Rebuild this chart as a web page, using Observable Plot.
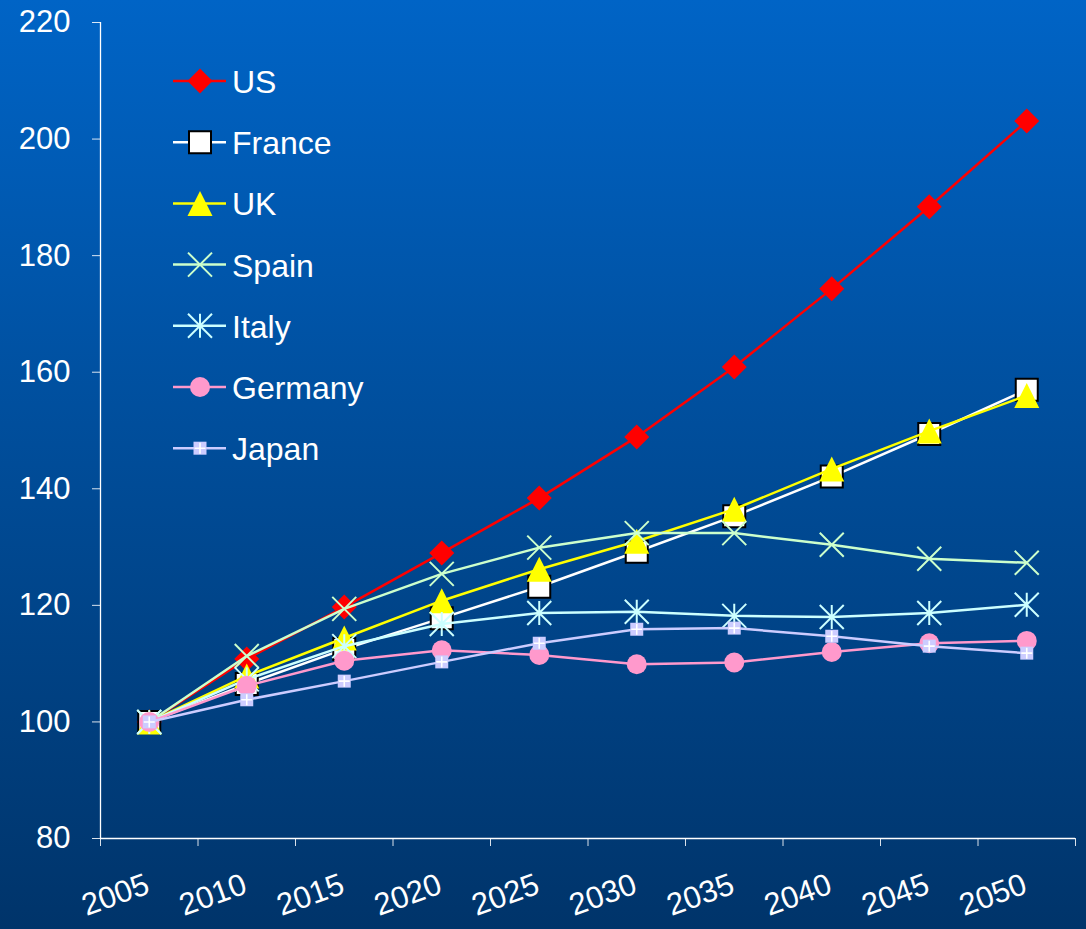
<!DOCTYPE html>
<html>
<head>
<meta charset="utf-8">
<script src="https://cdn.jsdelivr.net/npm/d3@7"></script>
<script src="https://cdn.jsdelivr.net/npm/@observablehq/plot@0.6"></script>
<style>
html, body { margin: 0; padding: 0; background: #003366; }
#wrap { position: relative; width: 1086px; height: 929px;
  background: linear-gradient(to bottom, #0064C6 0%, #00346A 100%);
  font-family: "Liberation Sans", Arial, sans-serif; overflow: hidden; }
#wrap > svg { position: absolute; left: 0; top: 0; }
</style>
</head>
<body>
<div id="wrap"></div>
<script>
// ---- data ----
const years = [2005, 2010, 2015, 2020, 2025, 2030, 2035, 2040, 2045, 2050];
const seriesNames = ["US", "France", "UK", "Spain", "Italy", "Germany", "Japan"];
const us      = [100, 110.8, 119.7, 129.0, 138.4, 148.9, 160.9, 174.3, 188.4, 203.1];
const france  = [100, 106.5, 112.5, 117.8, 123.2, 129.2, 135.3, 142.1, 149.4, 157.0];
const uk      = [100, 107.9, 114.4, 120.8, 126.2, 131.0, 136.5, 143.4, 149.9, 156.0];
const spain   = [100, 111.3, 119.4, 125.4, 129.9, 132.4, 132.4, 130.4, 128.0, 127.3];
const italy   = [100, 107.3, 113.0, 116.8, 118.7, 118.9, 118.2, 118.0, 118.7, 120.1];
const germany = [100, 106.2, 110.5, 112.3, 111.5, 109.9, 110.2, 112.0, 113.5, 113.9];
const japan   = [100, 103.8, 107.0, 110.3, 113.5, 115.9, 116.1, 114.7, 113.0, 111.8];
const yTicks = [80, 100, 120, 140, 160, 180, 200, 220];
const xTickLabels = years.map(String);

const seriesValues = [us, france, uk, spain, italy, germany, japan];
const seriesColors = ["#FF0000", "#FFFFFF", "#FFFF00", "#CCFFCC", "#CCFFFF", "#FF99CC", "#CCCCFF"];

const data = seriesNames.flatMap((s, i) => years.map((yr, j) => ({series: s, year: yr, value: seriesValues[i][j]})));

// ---- custom marker symbols (half-extent = r) ----
const half = size => Math.sqrt(size / Math.PI);
const symDiamond = {draw(c, s) { const h = half(s); c.moveTo(0, -h); c.lineTo(h, 0); c.lineTo(0, h); c.lineTo(-h, 0); c.closePath(); }};
const symSquare = {draw(c, s) { const h = half(s); c.rect(-h, -h, 2 * h, 2 * h); }};
const symTriangle = {draw(c, s) { const h = half(s); c.moveTo(0, -h); c.lineTo(h, h); c.lineTo(-h, h); c.closePath(); }};
const symTimes = {draw(c, s) { const h = half(s); c.moveTo(-h, -h); c.lineTo(h, h); c.moveTo(-h, h); c.lineTo(h, -h); }};
const symStar = {draw(c, s) { const h = half(s); c.moveTo(-h, -h); c.lineTo(h, h); c.moveTo(-h, h); c.lineTo(h, -h); c.moveTo(0, -h); c.lineTo(0, h); }};
const symCircle = {draw(c, s) { const h = half(s); c.moveTo(h, 0); c.arc(0, 0, h, 0, 2 * Math.PI); }};
const symPlus = {draw(c, s) { const h = half(s); c.moveTo(-h, 0); c.lineTo(h, 0); c.moveTo(0, -h); c.lineTo(0, h); }};

// marker styles per series (list of layered dots)
const markerStyles = [
  [{symbol: symDiamond, r: 12.5, fill: "#FF0000", stroke: "none"}],
  [{symbol: symSquare, r: 11, fill: "#FFFFFF", stroke: "#000000", strokeWidth: 2}],
  [{symbol: symTriangle, r: 12.5, fill: "#FFFF00", stroke: "none"}],
  [{symbol: symTimes, r: 12, fill: "none", stroke: "#CCFFCC", strokeWidth: 2}],
  [{symbol: symStar, r: 12, fill: "none", stroke: "#CCFFFF", strokeWidth: 2}],
  [{symbol: symCircle, r: 10, fill: "#FF99CC", stroke: "none"}],
  [{symbol: symSquare, r: 6.5, fill: "#CCCCFF", stroke: "none"},
   {symbol: symPlus, r: 5.5, fill: "none", stroke: "#FFFFFF", strokeWidth: 1.6}]
];

// ---- scales ----
const step = years[1] - years[0];
const xDomain = [years[0] - step / 2, years[years.length - 1] + step / 2];
const xBounds = d3.range(years.length + 1).map(i => xDomain[0] + i * step);
const yDomain = [yTicks[0], yTicks[yTicks.length - 1]];

const marks = [
  Plot.ruleX([xDomain[0]], {stroke: "white", strokeWidth: 1.3}),
  Plot.ruleY([yDomain[0]], {stroke: "white", strokeWidth: 1.3}),
  Plot.axisY(yTicks, {tickSize: 8, tickPadding: 22, fontSize: 31, stroke: "white", fill: "white", strokeOpacity: 0.85, label: null}),
  Plot.axisX(xBounds, {tickSize: 8, tickFormat: () => "", stroke: "white", strokeOpacity: 0.85, label: null}),
  Plot.text(years, {x: d => d, text: (d, i) => xTickLabels[i], frameAnchor: "bottom", dy: 54, dx: 2,
    rotate: -20, textAnchor: "end", lineAnchor: "bottom", fontSize: 31, fill: "white"})
];

seriesNames.forEach((name, i) => {
  const rows = data.filter(d => d.series === name);
  marks.push(Plot.line(rows, {x: "year", y: "value", stroke: seriesColors[i], strokeWidth: 2.5}));
  markerStyles[i].forEach(m => {
    marks.push(Plot.dot(rows, {x: "year", y: "value", symbol: m.symbol, r: m.r, fill: m.fill,
      stroke: m.stroke, strokeWidth: m.strokeWidth || 1}));
  });
});

const chart = Plot.plot({
  width: 1086, height: 929,
  marginLeft: 100, marginRight: 11, marginTop: 22, marginBottom: 91,
  x: {type: "linear", domain: xDomain, label: null},
  y: {domain: yDomain, label: null},
  style: {background: "transparent", color: "white", fontFamily: "'Liberation Sans', Arial, sans-serif"},
  marks
});
document.getElementById("wrap").appendChild(chart);

// ---- legend overlay ----
const legend = d3.select("#wrap").append("svg").attr("width", 1086).attr("height", 929)
  .style("pointer-events", "none");
seriesNames.forEach((name, i) => {
  const cy = 81 + i * 61.2;
  const g = legend.append("g").attr("transform", `translate(0,${cy})`);
  g.append("line").attr("x1", 173).attr("x2", 226).attr("y1", 0).attr("y2", 0)
    .attr("stroke", seriesColors[i]).attr("stroke-width", 2.5);
  markerStyles[i].forEach(m => {
    g.append("path").attr("transform", "translate(200,0)")
      .attr("d", d3.symbol().type(m.symbol).size(Math.PI * m.r * m.r)())
      .attr("fill", m.fill).attr("stroke", m.stroke).attr("stroke-width", m.strokeWidth || 1);
  });
  g.append("text").attr("x", 232).attr("y", 12).attr("fill", "white")
    .attr("font-size", 32).attr("font-family", "'Liberation Sans', Arial, sans-serif").text(name);
});
</script>
</body>
</html>
